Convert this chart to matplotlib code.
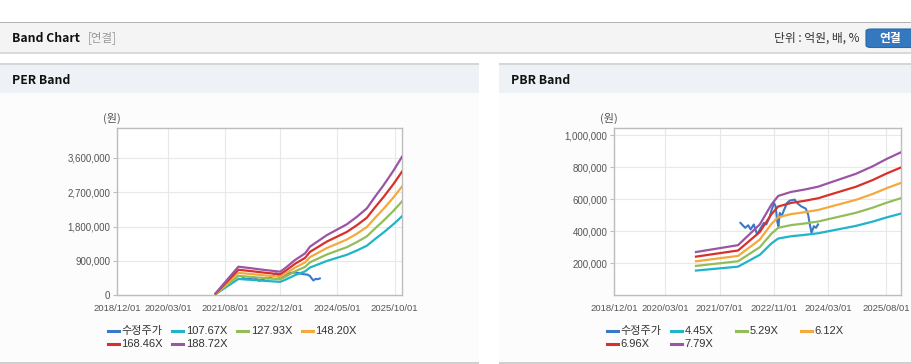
import numpy as np
import pandas as pd
import matplotlib
matplotlib.use("Agg")
import matplotlib.pyplot as plt
from matplotlib.patches import Rectangle, FancyBboxPatch
from matplotlib.lines import Line2D
from matplotlib.ticker import FuncFormatter, FixedLocator

plt.rcParams['font.family'] = ['Liberation Sans', 'Noto Sans CJK KR', 'DejaVu Sans']

# ---------------- data ----------------
price_dates = ['2022-01-03', '2022-02-14', '2022-03-14', '2022-04-04', '2022-05-02', '2022-06-01',
               '2022-07-01', '2022-08-01', '2022-08-22', '2022-09-19', '2022-10-10', '2022-10-31',
               '2022-11-14', '2022-11-28', '2022-12-09', '2022-12-21', '2023-01-06', '2023-01-23',
               '2023-02-24', '2023-03-20', '2023-05-03', '2023-05-25', '2023-07-01', '2023-08-10',
               '2023-09-01', '2023-09-16', '2023-10-01', '2023-10-22', '2023-11-10', '2023-11-28']
price_values = [452000, 421000, 437000, 411000, 442000, 380000,
                417000, 452000, 442000, 483000, 535000, 576000,
                555000, 462000, 431000, 514000, 493000, 524000,
                576000, 591000, 597000, 576000, 555000, 541000,
                504000, 442000, 390000, 431000, 421000, 442000]

per_dates = ['2021-05-04', '2021-11-25', '2022-03-25', '2022-07-22', '2022-12-07', '2023-01-19',
             '2023-04-19', '2023-07-19', '2023-09-01', '2024-02-01', '2024-07-28', '2024-10-28',
             '2025-01-25', '2025-04-10', '2025-06-25', '2025-09-22', '2025-12-07']
eps_values = [276, 3974, 3752, 3513, 3280, 3752, 4901, 5829, 6761, 8372, 9856, 10916,
              12081, 13724, 15314, 17327, 19235]
per_multiples = [107.67, 127.93, 148.20, 168.46, 188.72]

pbr_dates = ['2020-12-01', '2021-12-13', '2022-06-25', '2022-10-07', '2022-12-07', '2023-04-01',
             '2023-08-01', '2023-12-01', '2024-03-01', '2024-11-01', '2025-04-01', '2025-08-01',
             '2025-12-05']
bps_values = [34660, 40180, 56740, 72660, 79590, 82800, 84720, 87040, 89860, 97300,
              103340, 109110, 114380]
pbr_multiples = [4.45, 5.29, 6.12, 6.96, 7.79]

per_xticks = ['2018/12/01', '2020/03/01', '2021/08/01', '2022/12/01', '2024/05/01', '2025/10/01']
pbr_xticks = ['2018/12/01', '2020/03/01', '2021/07/01', '2022/11/01', '2024/03/01', '2025/08/01']
per_yticks = [0, 900000, 1800000, 2700000, 3600000]
pbr_yticks = [200000, 400000, 600000, 800000, 1000000]

per_labels = ['수정주가'] + ['%.2fX' % m for m in per_multiples]
pbr_labels = ['수정주가'] + ['%.2fX' % m for m in pbr_multiples]

colors = ['#3a78c8', '#20b4c8', '#93bd58', '#f4a93c', '#d8302a', '#9a55a4']

W, H = 912, 364
fig = plt.figure(figsize=(W / 100, H / 100), dpi=100)
fig.patch.set_facecolor('white')


def fx(x):
    return x / W


def fy(y):
    return 1 - y / H


def rect(x0, y0, x1, y1, color, z=0):
    fig.add_artist(Rectangle((fx(x0), fy(y1)), fx(x1) - fx(x0), fy(y0) - fy(y1),
                             transform=fig.transFigure, facecolor=color, edgecolor='none', zorder=z))


CJK = ['Noto Sans CJK KR', 'DejaVu Sans']

# ---------------- page chrome ----------------
rect(0, 21.5, W, 23, '#b4b4b4')
rect(0, 23, W, 52, '#f4f4f4')
rect(0, 52, W, 54, '#d9d9d9')
fig.text(fx(12), fy(38), 'Band Chart', fontsize=8.8, fontweight='bold', color='#111111',
         va='center', ha='left', family=CJK)
fig.text(fx(88), fy(38), '[연결]', fontsize=8.3, color='#9a9a9a', va='center', ha='left', family=CJK)
fig.text(fx(860), fy(38.5), '단위 : 억원, 배, %', fontsize=8.5, color='#333333', va='center',
         ha='right', family=CJK)
btn = FancyBboxPatch((fx(866), fy(47.5)), fx(60), fy(29) - fy(47.5),
                     boxstyle='round,pad=0,rounding_size=0.006', transform=fig.transFigure,
                     facecolor='#3478bf', edgecolor='#2c67a6', linewidth=0.8, zorder=2)
fig.add_artist(btn)
fig.text(fx(890), fy(38.5), '연결', fontsize=8.5, fontweight='bold', color='white', va='center',
         ha='center', family=CJK, zorder=3)

for (x0, x1, title) in [(0, 479, 'PER Band'), (499, W, 'PBR Band')]:
    rect(x0, 63, x1, 65, '#d6d6d6')
    rect(x0, 65, x1, 93, '#eef2f7')
    rect(x0, 93, x1, 362, '#fcfcfc')
    rect(x0, 362, x1, 364, '#d0d0d0')
    fig.text(fx(x0 + 12), fy(80), title, fontsize=8.8, fontweight='bold', color='#111111',
             va='center', ha='left', family=CJK)


# ---------------- charts ----------------
xmin = pd.Timestamp('2018-12-01')
xmax = pd.Timestamp('2025-12-10')


def fmt_num(v, pos):
    return '{:,}'.format(int(round(v)))


def make_axis(left, right, top, bottom, ylim, yticks, xticks):
    ax = fig.add_axes([fx(left), fy(bottom), fx(right) - fx(left), fy(top) - fy(bottom)])
    ax.set_facecolor('white')
    ax.set_xlim(xmin, xmax)
    ax.set_ylim(*ylim)
    ax.yaxis.set_major_locator(FixedLocator(yticks))
    ax.yaxis.set_major_formatter(FuncFormatter(fmt_num))
    tick_dates = [pd.Timestamp(t.replace('/', '-')) for t in xticks]
    ax.set_xticks(tick_dates)
    ax.set_xticklabels(xticks)
    ax.grid(True, color='#e8e8e8', linewidth=0.8, zorder=0)
    ax.set_axisbelow(True)
    for s in ax.spines.values():
        s.set_color('#bdbdbd')
        s.set_linewidth(1.0)
    ax.tick_params(axis='y', labelsize=7, colors='#555555', length=3, width=0.8, pad=2,
                   color='#bdbdbd')
    ax.tick_params(axis='x', labelsize=6.8, colors='#555555', length=0, pad=6.5)
    return ax


def draw(ax, dates, base, multiples):
    d = pd.to_datetime(dates)
    ax.plot(pd.to_datetime(price_dates), price_values, color=colors[0], linewidth=1.5, zorder=2,
            solid_joinstyle='round')
    for i, m in enumerate(multiples):
        ax.plot(d, np.array(base) * m, color=colors[i + 1], linewidth=1.6, zorder=3,
                solid_joinstyle='round')


ax1 = make_axis(117.3, 402.3, 128.3, 295.3, (0, 4378000), per_yticks, per_xticks)
draw(ax1, per_dates, eps_values, per_multiples)
ax2 = make_axis(614.3, 901, 128.3, 295.3, (0, 1042000), pbr_yticks, pbr_xticks)
draw(ax2, pbr_dates, bps_values, pbr_multiples)

for x in (111.5, 609):
    fig.text(fx(x), fy(118), '(원)', fontsize=8, color='#555555', va='center', ha='center',
             family=CJK)


def legend(x0, labels):
    rows = [330.7, 344]
    for i, lab in enumerate(labels):
        r, c = divmod(i, 4)
        xm = x0 + c * 64.7
        y = rows[r]
        fig.add_artist(Line2D([fx(xm), fx(xm + 11)], [fy(y), fy(y)], transform=fig.transFigure,
                              color=colors[i], linewidth=2.2))
        fig.text(fx(xm + 13.5), fy(y), lab, fontsize=8, color='#333333', va='center', ha='left')


legend(107.7, per_labels)
legend(606.7, pbr_labels)

fig.savefig('out.png', dpi=100, facecolor='white')
